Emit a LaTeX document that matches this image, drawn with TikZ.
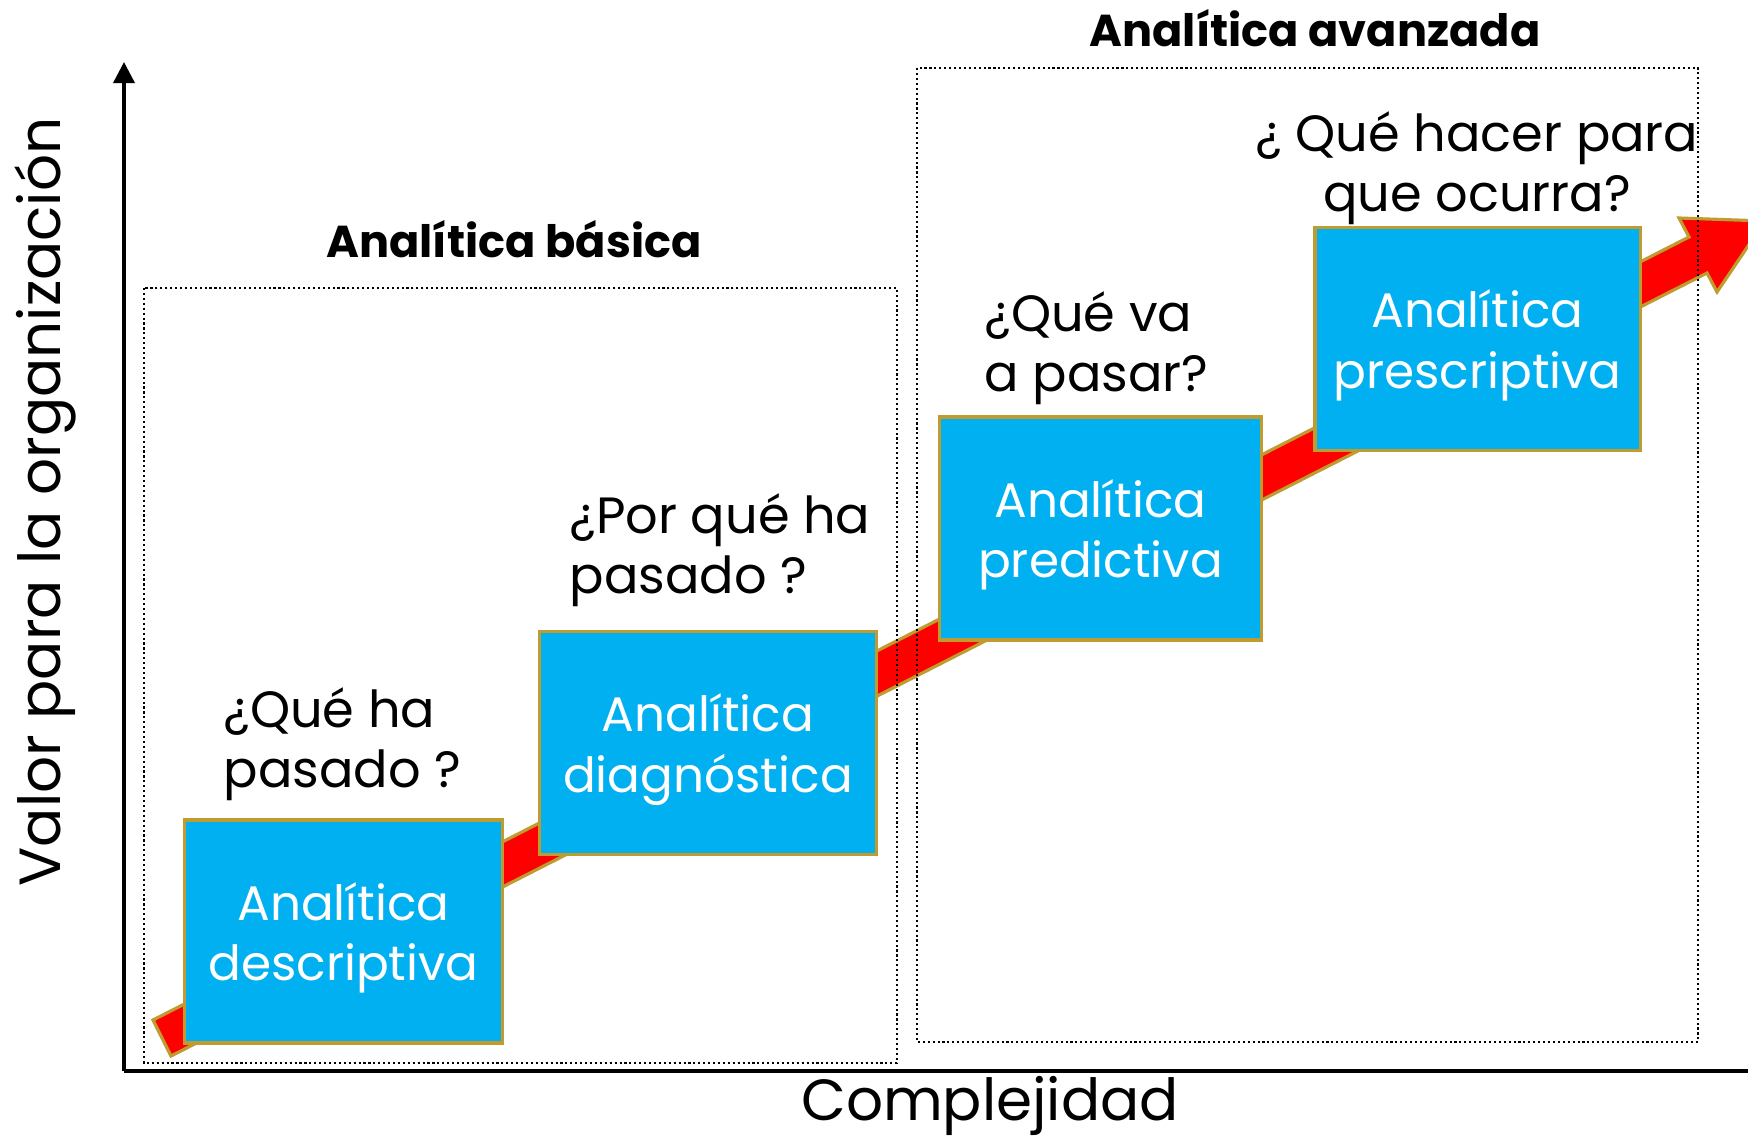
\documentclass[tikz,border=0pt]{standalone}
\usepackage{fontspec}
\setmainfont{Poppins}
\usetikzlibrary{arrows.meta}

\definecolor{stageblue}{RGB}{0,176,240}
\definecolor{stagegold}{RGB}{191,155,48}

\tikzset{
  stage/.style={draw=stagegold, line width=0.9pt, fill=stageblue, text=white,
    align=center, inner sep=0pt, minimum height=2.23cm, text depth=0pt,
    font=\fontsize{13.8}{17.2}\selectfont},
  question/.style={inner sep=0pt, font=\fontsize{14.5}{17}\selectfont},
  zone/.style={line width=0.7pt, dash pattern=on 0.6pt off 0.8pt},
  zonetitle/.style={inner sep=0pt, font=\bfseries\fontsize{12.7}{15}\selectfont},
  axislabel/.style={inner sep=0pt, font=\fontsize{16.5}{20}\selectfont}
}

\begin{document}
\begin{tikzpicture}[x=0.01cm,y=-0.01cm]
\useasboundingbox (0,0) rectangle (1748,1136);

% Flecha roja de progresion
\draw[stagegold, fill=red, line width=0.9pt, line join=miter]
  (153,1020) -- (1689,237) -- (1679,218) -- (1765,221)
  -- (1717,292) -- (1707,273) -- (171,1056) -- cycle;

% Zonas punteadas
\draw[zone] (144,288) rectangle (897,1063);
\draw[zone] (917,68) rectangle (1698,1042);
\node[zonetitle] (basica) at (514,239) {Analítica básica};
\node[zonetitle] (avanzada) at (1315,28) {Analítica avanzada};

% Ejes
\coordinate (origen) at (124,1071);
\coordinate (ytop) at (124,62);
\coordinate (xend) at (1760,1071);
\draw[line width=1pt, -{Triangle[width=6pt,length=6pt]}] (origen) -- (ytop);
\draw[line width=1pt] (origen) -- (xend);
\node[axislabel, rotate=90] (valor) at (45,502) {Valor para la organización};
\node[axislabel] (complejidad) at (990,1106) {Complejidad};

% Etapas
\node[stage, minimum width=3.17cm] (desc) at (343.5,931.5) {Analítica\\descriptiva};
\node[stage, minimum width=3.37cm] (diag) at (708,743) {Analítica\\diagnóstica};
\node[stage, minimum width=3.21cm] (pred) at (1100.5,528.5) {Analítica\\predictiva};
\node[stage, minimum width=3.25cm] (presc) at (1477.5,339) {Analítica\\prescriptiva};

% Preguntas
\node[question, align=left, anchor=west] (qdesc) at (223,744) {¿Qué ha\\pasado ?};
\node[question, align=left, anchor=west] (qdiag) at (569,550) {¿Por qué ha\\pasado ?};
\node[question, align=left, anchor=west] (qpred) at (984,348) {¿Qué va\\a pasar?};
\node[question, align=center] (qpresc) at (1477,168) {¿ Qué hacer para\\que ocurra?};

\end{tikzpicture}
\end{document}
